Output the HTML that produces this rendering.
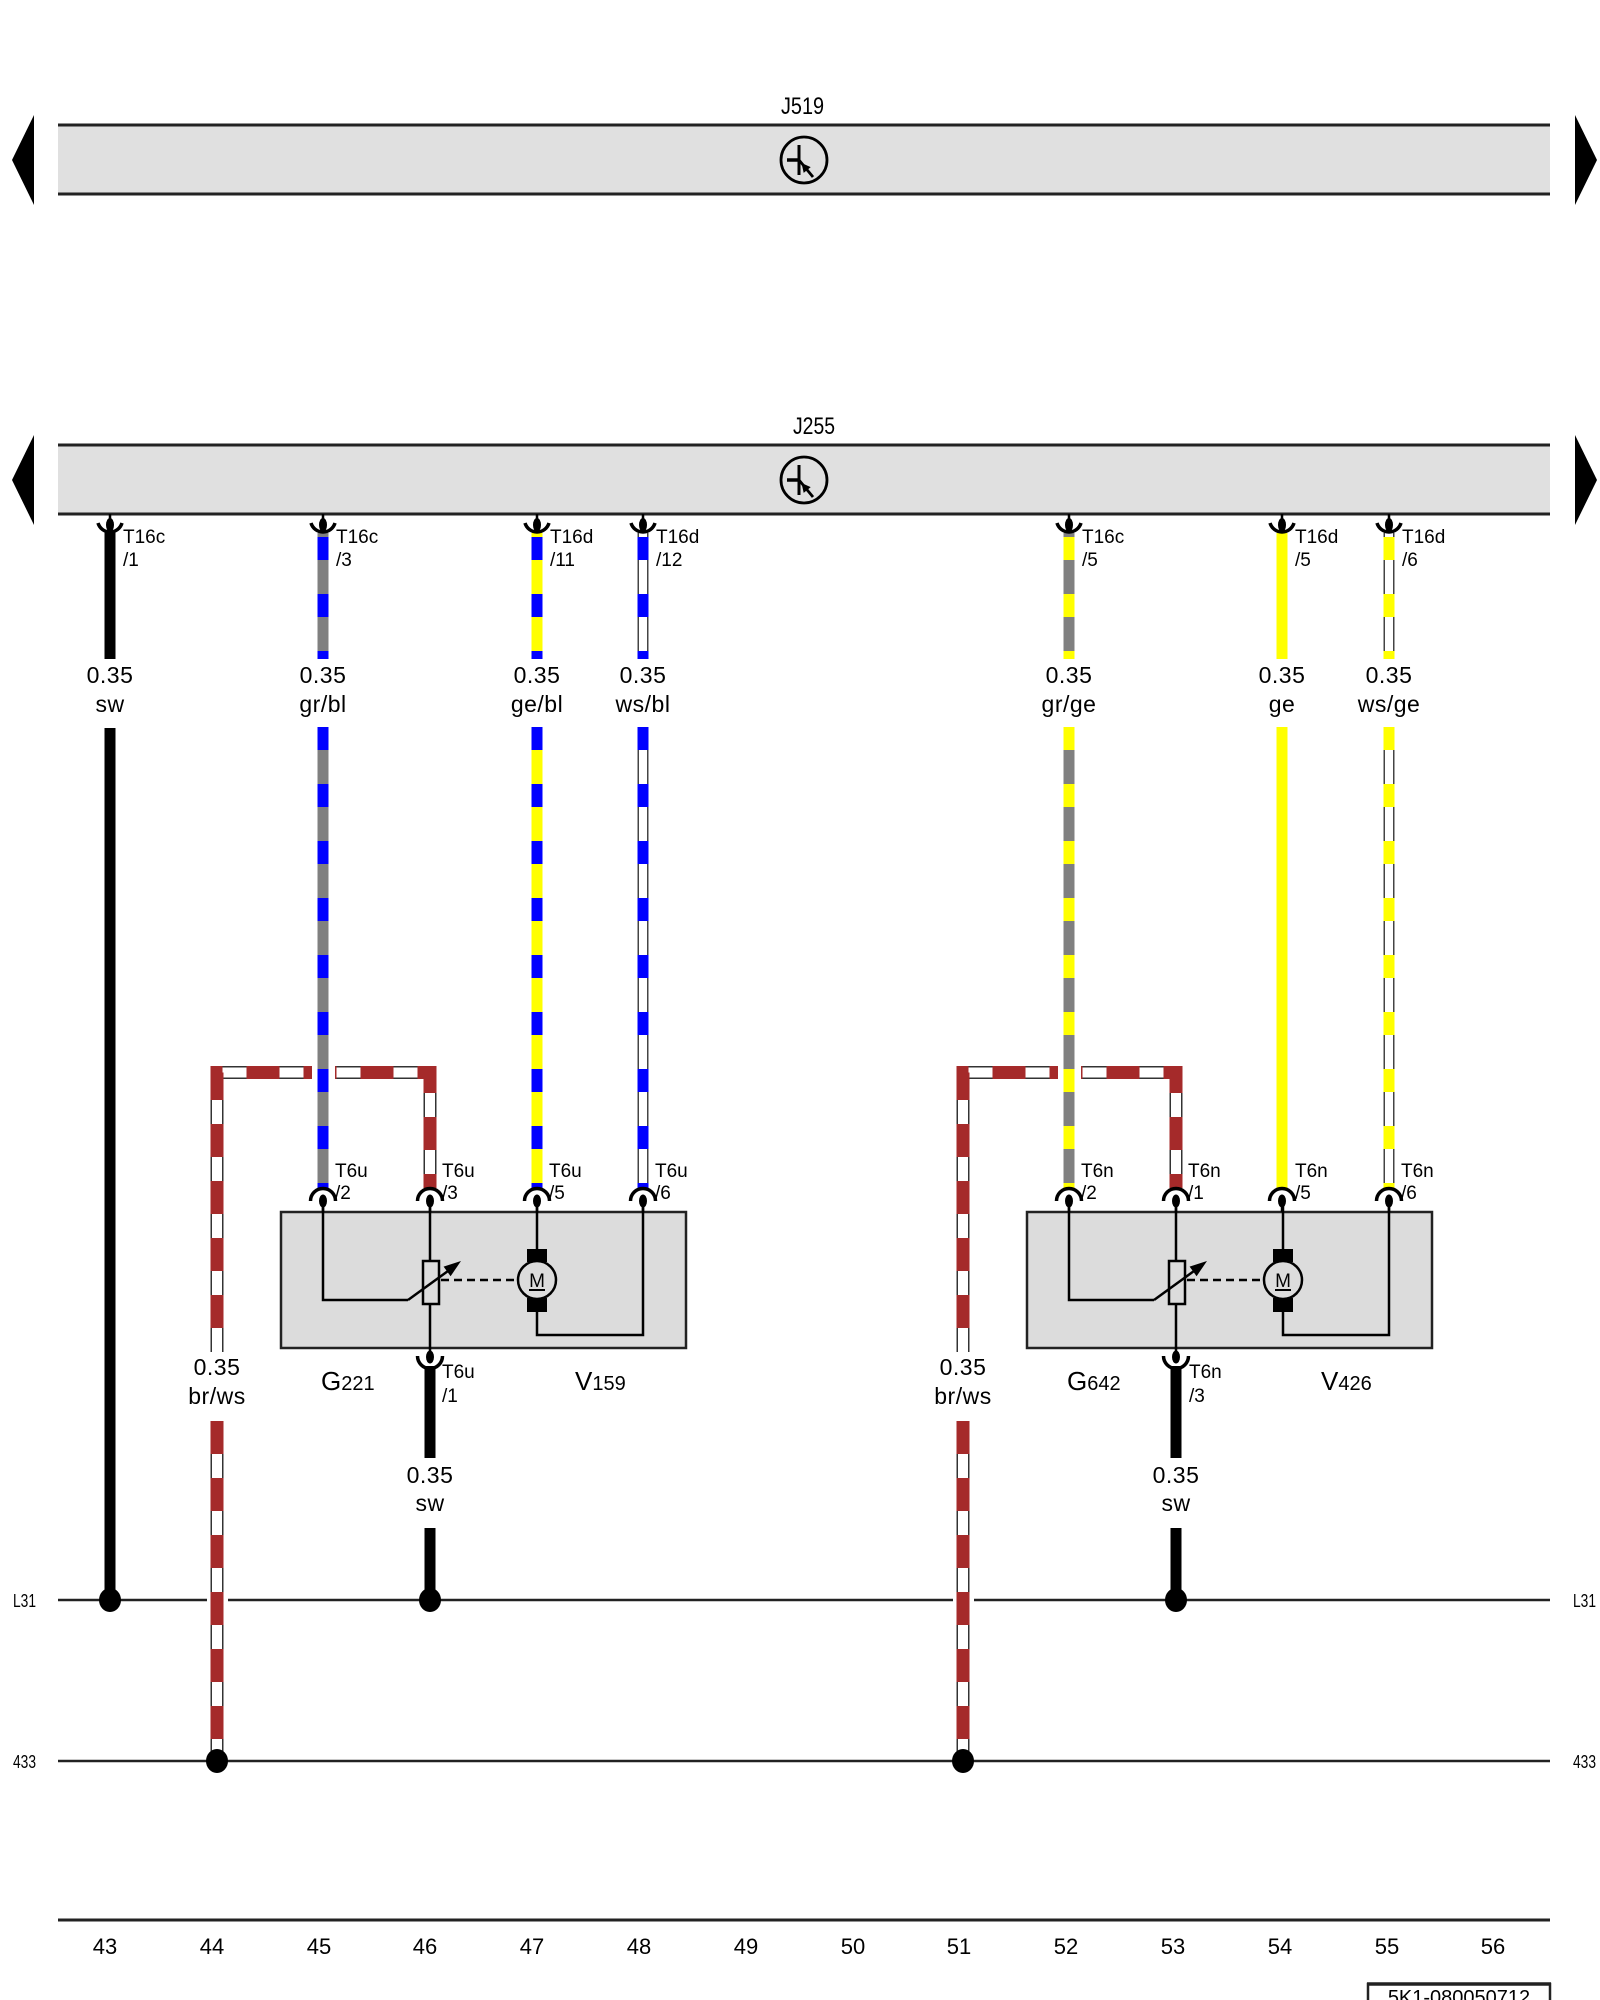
<!DOCTYPE html>
<html>
<head>
<meta charset="utf-8">
<style>
  html,body{margin:0;padding:0;background:#fff;}
  svg{display:block;}
  text{font-family:"Liberation Sans",Arial,sans-serif;fill:#000;}
</style>
</head>
<body>
<svg width="1600" height="2000" viewBox="0 0 1600 2000" xmlns="http://www.w3.org/2000/svg">
<defs>
  <g id="tr">
    <circle cx="0" cy="0" r="23" fill="none" stroke="#000" stroke-width="2.8"/>
    <line x1="-5" y1="-15" x2="-5" y2="15" stroke="#000" stroke-width="3"/>
    <line x1="-17" y1="0" x2="-5" y2="0" stroke="#000" stroke-width="3.5"/>
    <line x1="-5" y1="0" x2="9" y2="17" stroke="#000" stroke-width="2.8"/>
    <polygon points="-2.5,3 6.7,7.1 -0.3,12.9" fill="#000"/>
  </g>
  <g id="tc">
    <line x1="0" y1="514" x2="0" y2="520" stroke="#000" stroke-width="2.5"/>
    <ellipse cx="0" cy="525" rx="4" ry="7" fill="#000"/>
    <path d="M -12 523 A 12.5 12.5 0 0 0 12 523" fill="none" stroke="#000" stroke-width="3.5"/>
  </g>
  <g id="bc">
    <path d="M -12.5 1201 A 12.5 12.5 0 0 1 12.5 1201" fill="none" stroke="#000" stroke-width="3.5"/>
    <ellipse cx="0" cy="1201" rx="4" ry="6.5" fill="#000"/>
    <line x1="0" y1="1201" x2="0" y2="1212" stroke="#000" stroke-width="2.5"/>
  </g>
  <g id="comp">
    <rect x="281" y="1212" width="405" height="136" fill="#dcdcdc" stroke="#222" stroke-width="2.5"/>
    <polyline points="323,1201 323,1300 408,1300" fill="none" stroke="#000" stroke-width="2.5"/>
    <line x1="430" y1="1201" x2="430" y2="1261" stroke="#000" stroke-width="2.5"/>
    <rect x="423" y="1261" width="16" height="43" fill="#dcdcdc" stroke="#000" stroke-width="2.5"/>
    <line x1="408" y1="1300" x2="448" y2="1271" stroke="#000" stroke-width="2.5"/>
    <polygon points="461,1261 450.6,1276.2 443.6,1266.6" fill="#000"/>
    <line x1="430" y1="1304" x2="430" y2="1352" stroke="#000" stroke-width="2.5"/>
    <line x1="441" y1="1280" x2="518" y2="1280" stroke="#000" stroke-width="2.5" stroke-dasharray="8 5"/>
    <line x1="537" y1="1201" x2="537" y2="1249" stroke="#000" stroke-width="2.5"/>
    <rect x="527" y="1249" width="20" height="13" fill="#000"/>
    <rect x="527" y="1298" width="20" height="14" fill="#000"/>
    <circle cx="537" cy="1280" r="19" fill="#dcdcdc" stroke="#000" stroke-width="2.5"/>
    <text x="537" y="1287" font-size="19" text-anchor="middle">M</text>
    <line x1="529" y1="1290" x2="545" y2="1290" stroke="#000" stroke-width="2"/>
    <polyline points="537,1312 537,1335 643,1335 643,1201" fill="none" stroke="#000" stroke-width="2.5"/>
    <!-- under-box connector -->
    <ellipse cx="430" cy="1357" rx="4" ry="6.5" fill="#000"/>
    <path d="M 417.5 1356 A 12.5 12.5 0 0 0 442.5 1356" fill="none" stroke="#000" stroke-width="3.5"/>
    <line x1="430" y1="1366" x2="430" y2="1458" stroke="#000" stroke-width="11"/>
    <line x1="430" y1="1528" x2="430" y2="1600" stroke="#000" stroke-width="11"/>
  </g>
  <g id="brws">
    <path d="M430 1188 V1072.5 H217 V1352" fill="none" stroke="#333" stroke-width="13"/>
    <path d="M430 1188 V1072.5 H217 V1352" fill="none" stroke="#fff" stroke-width="10"/>
    <path d="M430 1188 V1072.5 H217 V1352" fill="none" stroke="#a52a2a" stroke-width="13" stroke-dasharray="33 24" stroke-dashoffset="19"/>
    <line x1="217" y1="1421" x2="217" y2="1761" stroke="#333" stroke-width="13"/>
    <line x1="217" y1="1421" x2="217" y2="1761" stroke="#fff" stroke-width="10"/>
    <line x1="217" y1="1421" x2="217" y2="1761" stroke="#a52a2a" stroke-width="13" stroke-dasharray="33 24"/>
    <rect x="312" y="1062" width="23" height="21" fill="#fff"/>
  </g>
</defs>

<rect x="0" y="0" width="1600" height="2000" fill="#fff"/>

<!-- J519 -->
<rect x="58" y="125" width="1492" height="69" fill="#e0e0e0"/>
<line x1="58" y1="125" x2="1550" y2="125" stroke="#222" stroke-width="3"/>
<line x1="58" y1="194" x2="1550" y2="194" stroke="#222" stroke-width="3"/>
<polygon points="12,160 34,115 34,205" fill="#000"/>
<polygon points="1597,160 1575,115 1575,205" fill="#000"/>
<text x="781" y="114" font-size="24" textLength="43" lengthAdjust="spacingAndGlyphs">J519</text>
<use href="#tr" x="804" y="160"/>

<!-- J255 -->
<rect x="58" y="445" width="1492" height="69" fill="#e0e0e0"/>
<line x1="58" y1="445" x2="1550" y2="445" stroke="#222" stroke-width="3"/>
<line x1="58" y1="514" x2="1550" y2="514" stroke="#222" stroke-width="3"/>
<polygon points="12,480 34,435 34,525" fill="#000"/>
<polygon points="1597,480 1575,435 1575,525" fill="#000"/>
<text x="793" y="434" font-size="24" textLength="42" lengthAdjust="spacingAndGlyphs">J255</text>
<use href="#tr" x="804" y="480"/>

<!-- br/ws wires -->
<use href="#brws"/>
<use href="#brws" x="746"/>

<!-- L31 and 433 lines -->
<line x1="58" y1="1600" x2="207" y2="1600" stroke="#222" stroke-width="2.5"/>
<line x1="228" y1="1600" x2="953" y2="1600" stroke="#222" stroke-width="2.5"/>
<line x1="974" y1="1600" x2="1550" y2="1600" stroke="#222" stroke-width="2.5"/>
<line x1="58" y1="1761" x2="1550" y2="1761" stroke="#222" stroke-width="2.5"/>
<text x="13" y="1607" font-size="18" textLength="23" lengthAdjust="spacingAndGlyphs">L31</text>
<text x="1573" y="1607" font-size="18" textLength="23" lengthAdjust="spacingAndGlyphs">L31</text>
<text x="13" y="1768" font-size="18" textLength="23" lengthAdjust="spacingAndGlyphs">433</text>
<text x="1573" y="1768" font-size="18" textLength="23" lengthAdjust="spacingAndGlyphs">433</text>

<!-- sw wire 110 -->
<line x1="110" y1="531" x2="110" y2="659" stroke="#000" stroke-width="11"/>
<line x1="110" y1="728" x2="110" y2="1600" stroke="#000" stroke-width="11"/>

<!-- gr/bl 323 -->
<line x1="323" y1="533" x2="323" y2="659" stroke="#808080" stroke-width="11"/>
<line x1="323" y1="537" x2="323" y2="659" stroke="#0000ff" stroke-width="11" stroke-dasharray="23 34"/>
<line x1="323" y1="727" x2="323" y2="1188" stroke="#808080" stroke-width="11"/>
<line x1="323" y1="727" x2="323" y2="1188" stroke="#0000ff" stroke-width="11" stroke-dasharray="23 34"/>

<!-- ge/bl 537 -->
<line x1="537" y1="533" x2="537" y2="659" stroke="#ffff00" stroke-width="11"/>
<line x1="537" y1="537" x2="537" y2="659" stroke="#0000ff" stroke-width="11" stroke-dasharray="23 34"/>
<line x1="537" y1="727" x2="537" y2="1188" stroke="#ffff00" stroke-width="11"/>
<line x1="537" y1="727" x2="537" y2="1188" stroke="#0000ff" stroke-width="11" stroke-dasharray="23 34"/>

<!-- ws/bl 643 -->
<line x1="643" y1="533" x2="643" y2="659" stroke="#444" stroke-width="11"/>
<line x1="643" y1="533" x2="643" y2="659" stroke="#fff" stroke-width="8"/>
<line x1="643" y1="537" x2="643" y2="659" stroke="#0000ff" stroke-width="11" stroke-dasharray="23 34"/>
<line x1="643" y1="727" x2="643" y2="1188" stroke="#444" stroke-width="11"/>
<line x1="643" y1="727" x2="643" y2="1188" stroke="#fff" stroke-width="8"/>
<line x1="643" y1="727" x2="643" y2="1188" stroke="#0000ff" stroke-width="11" stroke-dasharray="23 34"/>

<!-- gr/ge 1069 -->
<line x1="1069" y1="533" x2="1069" y2="659" stroke="#808080" stroke-width="11"/>
<line x1="1069" y1="537" x2="1069" y2="659" stroke="#ffff00" stroke-width="11" stroke-dasharray="23 34"/>
<line x1="1069" y1="727" x2="1069" y2="1188" stroke="#808080" stroke-width="11"/>
<line x1="1069" y1="727" x2="1069" y2="1188" stroke="#ffff00" stroke-width="11" stroke-dasharray="23 34"/>

<!-- ge 1282 -->
<line x1="1282" y1="533" x2="1282" y2="659" stroke="#ffff00" stroke-width="11"/>
<line x1="1282" y1="727" x2="1282" y2="1188" stroke="#ffff00" stroke-width="11"/>

<!-- ws/ge 1389 -->
<line x1="1389" y1="533" x2="1389" y2="659" stroke="#444" stroke-width="11"/>
<line x1="1389" y1="533" x2="1389" y2="659" stroke="#fff" stroke-width="8"/>
<line x1="1389" y1="537" x2="1389" y2="659" stroke="#ffff00" stroke-width="11" stroke-dasharray="23 34"/>
<line x1="1389" y1="727" x2="1389" y2="1188" stroke="#444" stroke-width="11"/>
<line x1="1389" y1="727" x2="1389" y2="1188" stroke="#fff" stroke-width="8"/>
<line x1="1389" y1="727" x2="1389" y2="1188" stroke="#ffff00" stroke-width="11" stroke-dasharray="23 34"/>

<!-- top connectors -->
<use href="#tc" x="110"/>
<use href="#tc" x="323"/>
<use href="#tc" x="537"/>
<use href="#tc" x="643"/>
<use href="#tc" x="1069"/>
<use href="#tc" x="1282"/>
<use href="#tc" x="1389"/>

<g font-size="19">
  <text x="123" y="543">T16c</text><text x="123" y="566">/1</text>
  <text x="336" y="543">T16c</text><text x="336" y="566">/3</text>
  <text x="550" y="543">T16d</text><text x="550" y="566">/11</text>
  <text x="656" y="543">T16d</text><text x="656" y="566">/12</text>
  <text x="1082" y="543">T16c</text><text x="1082" y="566">/5</text>
  <text x="1295" y="543">T16d</text><text x="1295" y="566">/5</text>
  <text x="1402" y="543">T16d</text><text x="1402" y="566">/6</text>
</g>

<!-- wire labels -->
<g font-size="23" text-anchor="middle" letter-spacing="0.5">
  <text x="110" y="683">0.35</text><text x="110" y="712">sw</text>
  <text x="323" y="683">0.35</text><text x="323" y="712">gr/bl</text>
  <text x="537" y="683">0.35</text><text x="537" y="712">ge/bl</text>
  <text x="643" y="683">0.35</text><text x="643" y="712">ws/bl</text>
  <text x="1069" y="683">0.35</text><text x="1069" y="712">gr/ge</text>
  <text x="1282" y="683">0.35</text><text x="1282" y="712">ge</text>
  <text x="1389" y="683">0.35</text><text x="1389" y="712">ws/ge</text>
  <text x="217" y="1375">0.35</text><text x="217" y="1404">br/ws</text>
  <text x="963" y="1375">0.35</text><text x="963" y="1404">br/ws</text>
  <text x="430" y="1483">0.35</text><text x="430" y="1511">sw</text>
  <text x="1176" y="1483">0.35</text><text x="1176" y="1511">sw</text>
</g>

<!-- components -->
<use href="#comp"/>
<use href="#comp" x="746"/>

<use href="#bc" x="323"/>
<use href="#bc" x="430"/>
<use href="#bc" x="537"/>
<use href="#bc" x="643"/>
<use href="#bc" x="1069"/>
<use href="#bc" x="1176"/>
<use href="#bc" x="1282"/>
<use href="#bc" x="1389"/>

<g font-size="19">
  <text x="335" y="1177">T6u</text><text x="335" y="1199">/2</text>
  <text x="442" y="1177">T6u</text><text x="442" y="1199">/3</text>
  <text x="549" y="1177">T6u</text><text x="549" y="1199">/5</text>
  <text x="655" y="1177">T6u</text><text x="655" y="1199">/6</text>
  <text x="1081" y="1177">T6n</text><text x="1081" y="1199">/2</text>
  <text x="1188" y="1177">T6n</text><text x="1188" y="1199">/1</text>
  <text x="1295" y="1177">T6n</text><text x="1295" y="1199">/5</text>
  <text x="1401" y="1177">T6n</text><text x="1401" y="1199">/6</text>
  <text x="442" y="1378">T6u</text><text x="442" y="1402">/1</text>
  <text x="1189" y="1378">T6n</text><text x="1189" y="1402">/3</text>
</g>

<!-- component names -->
<text x="321" y="1390" font-size="26">G<tspan font-size="20">221</tspan></text>
<text x="575" y="1390" font-size="26">V<tspan font-size="20">159</tspan></text>
<text x="1067" y="1390" font-size="26">G<tspan font-size="20">642</tspan></text>
<text x="1321" y="1390" font-size="26">V<tspan font-size="20">426</tspan></text>

<!-- dots -->
<ellipse cx="110" cy="1600" rx="11" ry="12" fill="#000"/>
<ellipse cx="430" cy="1600" rx="11" ry="12" fill="#000"/>
<ellipse cx="1176" cy="1600" rx="11" ry="12" fill="#000"/>
<ellipse cx="217" cy="1761" rx="11" ry="12" fill="#000"/>
<ellipse cx="963" cy="1761" rx="11" ry="12" fill="#000"/>

<!-- bottom scale -->
<line x1="58" y1="1920" x2="1550" y2="1920" stroke="#222" stroke-width="3"/>
<g font-size="22" text-anchor="middle">
  <text x="105" y="1954">43</text>
  <text x="212" y="1954">44</text>
  <text x="319" y="1954">45</text>
  <text x="425" y="1954">46</text>
  <text x="532" y="1954">47</text>
  <text x="639" y="1954">48</text>
  <text x="746" y="1954">49</text>
  <text x="853" y="1954">50</text>
  <text x="959" y="1954">51</text>
  <text x="1066" y="1954">52</text>
  <text x="1173" y="1954">53</text>
  <text x="1280" y="1954">54</text>
  <text x="1387" y="1954">55</text>
  <text x="1493" y="1954">56</text>
</g>

<rect x="1368" y="1984" width="182" height="30" fill="#fff" stroke="#222" stroke-width="2.5"/>
<line x1="1367" y1="1984" x2="1551" y2="1984" stroke="#222" stroke-width="3.5"/>
<text x="1459" y="2004" font-size="20" text-anchor="middle">5K1-080050712</text>
</svg>
</body>
</html>
